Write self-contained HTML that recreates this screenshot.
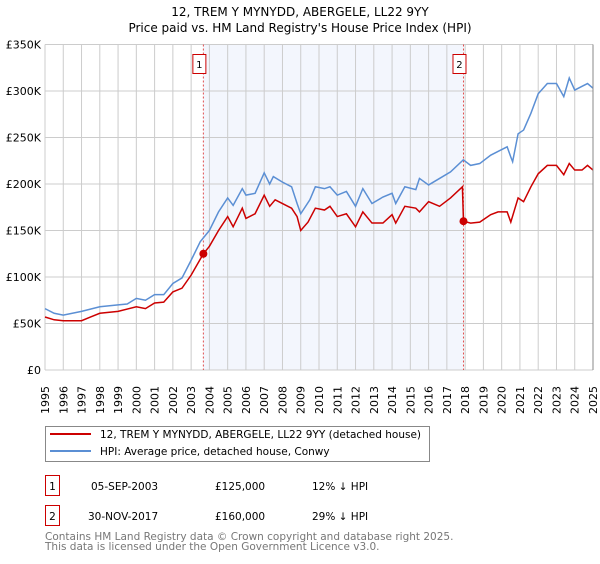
<!DOCTYPE html>
<html><head><meta charset="utf-8"><style>
body{margin:0;background:#fff;font-family:"DejaVu Sans","Liberation Sans",sans-serif;}
svg text{font-family:"DejaVu Sans","Liberation Sans",sans-serif;}
</style></head><body>
<svg id="chart" width="600" height="560" xmlns="http://www.w3.org/2000/svg">
<text x="300" y="16" font-size="12" text-anchor="middle">12, TREM Y MYNYDD, ABERGELE, LL22 9YY</text>
<text x="300" y="32" font-size="12" text-anchor="middle">Price paid vs. HM Land Registry's House Price Index (HPI)</text>
<g id="plot"></g>
<g>
<rect x="45.5" y="426.5" width="384" height="35" fill="#fff" stroke="#888"/>
<line x1="50" y1="434" x2="91" y2="434" stroke="#cc0000" stroke-width="2"/>
<text x="100" y="438" font-size="10.5">12, TREM Y MYNYDD, ABERGELE, LL22 9YY (detached house)</text>
<line x1="50" y1="451" x2="91" y2="451" stroke="#5b8fd4" stroke-width="2"/>
<text x="100" y="455" font-size="10.5">HPI: Average price, detached house, Conwy</text>
</g>
<g font-size="10.5">
<rect x="45.5" y="475.5" width="14" height="20" fill="none" stroke="#cc0000"/>
<text x="52.5" y="490" text-anchor="middle">1</text>
<text x="91" y="490">05-SEP-2003</text>
<text x="215" y="490">£125,000</text>
<text x="312" y="490">12% ↓ HPI</text>
<rect x="45.5" y="505.5" width="14" height="20" fill="none" stroke="#cc0000"/>
<text x="52.5" y="520" text-anchor="middle">2</text>
<text x="88" y="520">30-NOV-2017</text>
<text x="215" y="520">£160,000</text>
<text x="312" y="520">29% ↓ HPI</text>
</g>
<text x="45" y="540" font-size="10.5" fill="#777">Contains HM Land Registry data © Crown copyright and database right 2025.</text>
<text x="45" y="550" font-size="10.5" fill="#777">This data is licensed under the Open Government Licence v3.0.</text>
</svg>
<script>
const hpiYears=[1995,1995.5,1996,1997,1998,1999,1999.5,2000,2000.5,2001,2001.5,2002,2002.5,2003,2003.5,2004,2004.5,2005,2005.3,2005.8,2006,2006.5,2007,2007.3,2007.5,2008,2008.5,2008.8,2009,2009.5,2009.8,2010.3,2010.6,2011,2011.5,2012,2012.4,2012.9,2013.5,2014,2014.2,2014.7,2015.3,2015.5,2016,2016.6,2017.2,2017.9,2018.3,2018.8,2019.4,2019.8,2020.3,2020.5,2020.6,2020.9,2021.2,2021.6,2022,2022.5,2023,2023.4,2023.7,2024,2024.4,2024.7,2025];
const hpiValues=[66,61,59,63,68,70,71,77,75,81,81,93,99,118,138,150,170,185,177,195,188,190,212,200,208,202,197,179,168,183,197,195,197,188,192,176,195,179,186,190,179,197,194,206,199,206,213,226,220,222,231,235,240,229,224,254,258,276,297,308,308,294,314,301,305,308,303];
const priceYears=[1995,1995.5,1996,1997,1997.5,1998,1999,2000,2000.5,2001,2001.5,2002,2002.5,2003,2003.67,2004,2004.5,2005,2005.3,2005.8,2006,2006.5,2007,2007.3,2007.6,2008,2008.5,2008.8,2009,2009.4,2009.8,2010.3,2010.6,2011,2011.5,2012,2012.4,2012.9,2013.5,2014,2014.2,2014.7,2015.3,2015.5,2016,2016.6,2017.2,2017.85,2017.91,2018.3,2018.8,2019.4,2019.8,2020.3,2020.5,2020.9,2021.2,2021.6,2022,2022.5,2023,2023.4,2023.7,2024,2024.4,2024.7,2025];
const priceValues=[57,54,53,53,57,61,63,68,66,72,73,84,88,102,125,133,150,165,154,174,163,168,188,176,183,179,174,165,150,159,174,172,176,165,168,154,170,158,158,167,158,176,174,170,181,176,185,197,160,158,159,167,170,170,159,185,181,197,211,220,220,210,222,215,215,220,215];
const saleYears=[2003.67,2017.91];
const saleValues=[125,160];
const saleLabels=["1","2"];
const yTicks=[0,50,100,150,200,250,300,350];
const yTickLabels=["£0","£50K","£100K","£150K","£200K","£250K","£300K","£350K"];
const xTicks=[1995,1996,1997,1998,1999,2000,2001,2002,2003,2004,2005,2006,2007,2008,2009,2010,2011,2012,2013,2014,2015,2016,2017,2018,2019,2020,2021,2022,2023,2024,2025];

const X0=45,X1=593,Y0=370,Y1=44.5;
const xs=y=>X0+(y-1995)/30*(X1-X0);
const ys=v=>Y0-v/350*(Y0-Y1);
const NS="http://www.w3.org/2000/svg";
const g=document.getElementById('plot');
function mk(t,a){const e=document.createElementNS(NS,t);for(const k in a)e.setAttribute(k,a[k]);g.appendChild(e);return e;}
let e=mk('rect',{x:xs(saleYears[0]),y:Y1,width:xs(saleYears[1])-xs(saleYears[0]),height:Y0-Y1,fill:'#f3f6fd'});


xTicks.forEach((t,i)=>{
 let l=mk('line',{x1:xs(t),x2:xs(t),y1:Y1,y2:Y0,stroke:'#cccccc'});
 
 
 let tx=mk('text',{x:0,y:0,'font-size':'11',transform:`translate(${xs(t)+4},${Y0+44}) rotate(-90)`});
 tx.textContent=t;
 
 
});
yTicks.forEach((t,i)=>{
 let l=mk('line',{x1:X0,x2:X1,y1:ys(t),y2:ys(t),stroke:'#cccccc'});
 
 
 let tx=mk('text',{x:X0-4,y:ys(t)+4,'font-size':'11','text-anchor':'end'});
 tx.textContent=yTickLabels[i];
 
 
});
saleYears.forEach((s,i)=>{
 let l=mk('line',{x1:xs(s),x2:xs(s),y1:Y1,y2:Y0,stroke:'#e05050','stroke-dasharray':'2,2'});
 
 
 let r=mk('rect',{x:xs(s)-10.5,y:54.5,width:13,height:19,fill:'#fff',stroke:'#cc0000'});
 
 
 let t=mk('text',{x:xs(s)-4,y:68,'font-size':'10','text-anchor':'middle'});
 t.textContent=saleLabels[i];
 
 
});
let hp=mk('polyline',{points:hpiYears.map((y,i)=>xs(y)+','+ys(hpiValues[i])).join(' '),fill:'none',stroke:'#5b8fd4','stroke-width':1.5});


let pp=mk('polyline',{points:priceYears.map((y,i)=>xs(y)+','+ys(priceValues[i])).join(' '),fill:'none',stroke:'#cc0000','stroke-width':1.5});


saleYears.forEach((s,i)=>{
 let c=mk('circle',{cx:xs(s),cy:ys(saleValues[i]),r:4,fill:'#cc0000'});
 
 
});
let ax=mk('line',{x1:X1,x2:X1,y1:Y1,y2:Y0,stroke:'#888'});


</script>
</body></html>
